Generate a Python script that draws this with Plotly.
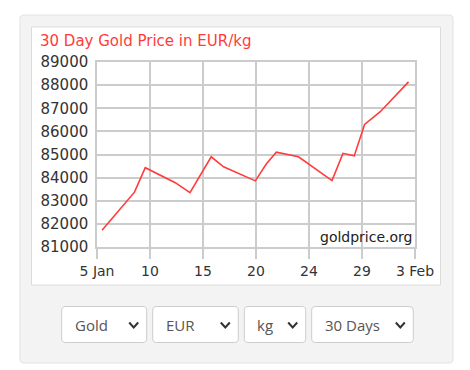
import plotly.graph_objects as go
import pandas as pd

# ---- data ----
dates = ["2026-01-05 11:00", "2026-01-08 10:00", "2026-01-09 09:40", "2026-01-12 03:20",
         "2026-01-13 11:30", "2026-01-15 10:00", "2026-01-16 13:00", "2026-01-19 10:30",
         "2026-01-20 10:30", "2026-01-21 08:30", "2026-01-23 09:00", "2026-01-26 10:20",
         "2026-01-27 10:20", "2026-01-28 11:00", "2026-01-29 09:40", "2026-01-30 20:00",
         "2026-02-02 09:50"]
prices = [81720, 83370, 84430, 83780, 83350, 84900, 84470, 83860, 84590, 85100,
          84900, 83870, 85050, 84940, 86300, 86850, 88140]
x_start, x_end = "2026-01-05", "2026-02-03"
x_tick_labels = ["5 Jan", "10", "15", "20", "24", "29", "3 Feb"]
y_ticks = [81000, 82000, 83000, 84000, 85000, 86000, 87000, 88000, 89000]
title_text = "30 Day Gold Price in EUR/kg"
watermark = "goldprice.org"
dropdowns = ["Gold", "EUR", "kg", "30 Days"]

# ---- geometry ----
W, H = 470, 370
L, R, T, B = 97, 415, 62, 247
RED = "#ff3b3b"
GRID = "#cccccc"

def xp(px):
    return (px - L) / (R - L)

def yp(py):
    return (B - py) / (B - T)

def rrect(x0, y0, x1, y1, r):
    pts = [
        ("M", [(x0 + r, y0)]),
        ("L", [(x1 - r, y0)]),
        ("Q", [(x1, y0), (x1, y0 + r)]),
        ("L", [(x1, y1 - r)]),
        ("Q", [(x1, y1), (x1 - r, y1)]),
        ("L", [(x0 + r, y1)]),
        ("Q", [(x0, y1), (x0, y1 - r)]),
        ("L", [(x0, y0 + r)]),
        ("Q", [(x0, y0), (x0 + r, y0)]),
    ]
    s = ""
    for cmd, ps in pts:
        s += cmd + " " + " ".join(f"{xp(a):.5f},{yp(b):.5f}" for a, b in ps) + " "
    return s + "Z"

tickvals = pd.date_range(x_start, x_end, periods=len(x_tick_labels))

fig = go.Figure()
fig.add_trace(go.Scatter(x=pd.to_datetime(dates), y=prices, mode="lines",
                         line=dict(color=RED, width=1.6), hoverinfo="x+y"))

shapes = []
# outer gray panel
shapes.append(dict(type="path", xref="paper", yref="paper", layer="below",
                   path=rrect(20, 15, 453, 363, 4),
                   fillcolor="#f3f3f3", line=dict(color="#e2e2e2", width=1)))
# white chart box
shapes.append(dict(type="rect", xref="paper", yref="paper", layer="below",
                   x0=xp(31.5), x1=xp(440.5), y0=yp(285), y1=yp(27),
                   fillcolor="white", line=dict(color="#dcdcdc", width=1)))

annotations = [
    dict(text=title_text, xref="paper", yref="paper", x=xp(38), y=yp(41),
         xanchor="left", yanchor="middle", showarrow=False,
         font=dict(family="DejaVu Sans", size=15, color=RED)),
    dict(text=watermark, xref="paper", yref="paper", x=1, y=0, xshift=-1, yshift=0,
         xanchor="right", yanchor="bottom", showarrow=False,
         font=dict(family="DejaVu Sans", size=14, color="#222222")),
]

boxes = [(61.7, 146.7), (152.7, 238.3), (244.3, 305.7), (311.7, 413.3)]
by0, by1 = 306.5, 342.5
for (bx0, bx1), label in zip(boxes, dropdowns):
    shapes.append(dict(type="path", xref="paper", yref="paper",
                       path=rrect(bx0, by0, bx1, by1, 4),
                       fillcolor="white", line=dict(color="#cccccc", width=1)))
    cx1 = bx1 - 8.5
    cx0 = cx1 - 9
    shapes.append(dict(type="path", xref="paper", yref="paper",
                       path=f"M {xp(cx0):.5f},{yp(322.5):.5f} L {xp((cx0+cx1)/2):.5f},{yp(327.5):.5f} L {xp(cx1):.5f},{yp(322.5):.5f}",
                       line=dict(color="#333333", width=2)))
    annotations.append(dict(text=label, xref="paper", yref="paper", x=xp(bx0 + 11), y=yp(325),
                            xanchor="left", yanchor="middle", showarrow=False,
                            font=dict(family="Open Sans", size=15, color="#555555")))

fig.update_layout(
    width=W, height=H,
    margin=dict(l=L, r=W - R, t=T, b=H - B, pad=0),
    paper_bgcolor="white", plot_bgcolor="white",
    showlegend=False,
    shapes=shapes, annotations=annotations,
    font=dict(family="DejaVu Sans", color="#333333"),
)
fig.update_xaxes(type="date", range=[x_start, x_end], tickvals=tickvals, ticktext=x_tick_labels,
                 showgrid=True, gridcolor=GRID, gridwidth=1.5,
                 showline=True, linecolor=GRID, linewidth=1.5, mirror=True,
                 ticks="outside", ticklen=10, tickcolor=GRID, tickwidth=1.5,
                 tickfont=dict(family="DejaVu Sans", size=14, color="#333333"),
                 zeroline=False, fixedrange=True)
fig.update_yaxes(range=[81000, 89000], tickvals=y_ticks, tickformat="d",
                 showgrid=True, gridcolor=GRID, gridwidth=1.5,
                 showline=True, linecolor=GRID, linewidth=1.5, mirror=True,
                 ticks="", ticklabelstandoff=4,
                 tickfont=dict(family="DejaVu Sans", size=15, color="#333333"),
                 zeroline=False, fixedrange=True)

fig.write_html("out.html", config={"displayModeBar": False},
               post_script="document.body.style.margin='0';document.body.style.overflow='hidden';")
